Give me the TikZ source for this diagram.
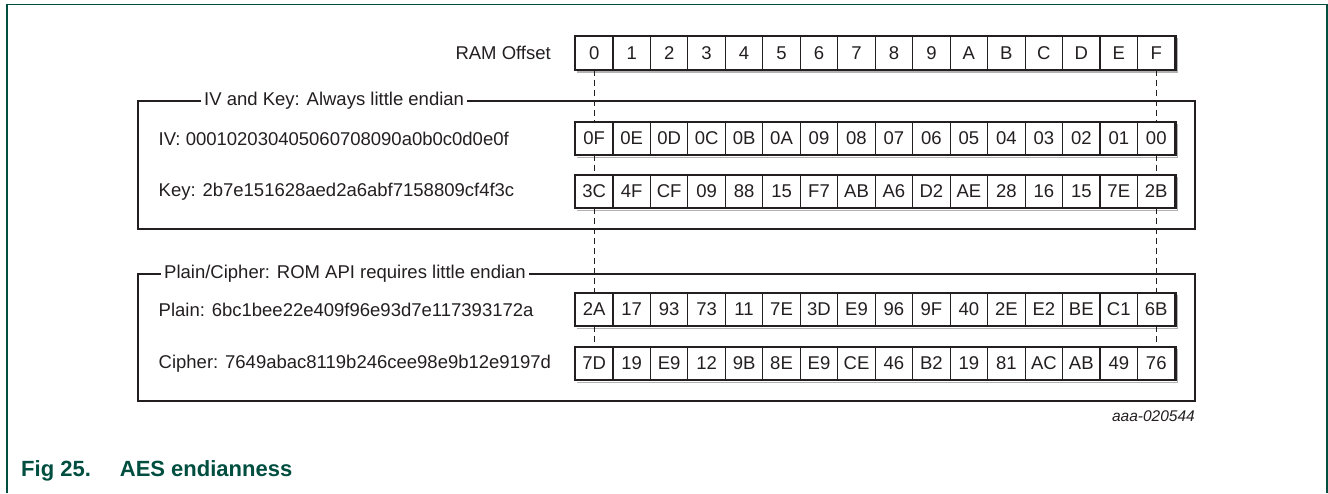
\documentclass[tikz,border=0pt]{standalone}
\usepackage{fontspec}
\setmainfont{Liberation Sans}
\usetikzlibrary{positioning}
\definecolor{nxpgreen}{RGB}{0,78,64}
\definecolor{ink}{RGB}{35,31,32}

\begin{document}
\begin{tikzpicture}[x=1pt, y=-1pt,
    cell/.style={draw=ink, line width=1.2pt, fill=white, minimum width=37.47pt, minimum height=32.5pt, inner sep=0pt, font=\fontsize{18.5}{21}\selectfont, text=ink},
    rowlabel/.style={anchor=west, inner sep=0pt, font=\fontsize{18.5}{21}\selectfont, text=ink},
    boxtitle/.style={anchor=west, fill=white, inner xsep=3pt, inner ysep=1pt, font=\fontsize{18.5}{21}\selectfont, text=ink},
    rowedge/.style={draw=ink, line width=2pt},
    rowshadow/.style={draw=black!30, line width=1.5pt},
    groupbox/.style={draw=ink, line width=2pt},
    guide/.style={draw=ink, line width=0.9pt, dash pattern=on 6pt off 4pt}]
    \useasboundingbox (0,0) rectangle (1328,493);

    % outer frame
    \draw[nxpgreen, line width=1.2pt] (7,493) -- (7,4.5) -- (1327,4.5) -- (1327,493);

    % group boxes
    \draw[groupbox] (138,101) rectangle (1195,229);
    \draw[groupbox] (138,274) rectangle (1195,401);
    \node[boxtitle] (ivkeytitle) at (201,101) {IV and Key: Always little endian};
    \node[boxtitle] (pctitle) at (161,274) {Plain/Cipher: ROM API requires little endian};

    % RAM offsets
    \node[rowlabel, anchor=east] (ramlabel) at (551,53) {RAM Offset};
    \foreach \v [count=\i from 0] in {0,1,2,3,4,5,6,7,8,9,A,B,C,D,E,F}
        \node[cell] (ram\i) at ({594.2+37.47*\i},53) {\v};

    % IV and key
    \node[rowlabel] (ivlabel) at (158.5,138.5) {IV: 000102030405060708090a0b0c0d0e0f};
    \foreach \v [count=\i from 0] in {0F,0E,0D,0C,0B,0A,09,08,07,06,05,04,03,02,01,00}
        \node[cell] (iv\i) at ({594.2+37.47*\i},138.5) {\v};
    \node[rowlabel] (keylabel) at (158.5,191.5) {Key: 2b7e151628aed2a6abf7158809cf4f3c};
    \foreach \v [count=\i from 0] in {3C,4F,CF,09,88,15,F7,AB,A6,D2,AE,28,16,15,7E,2B}
        \node[cell] (key\i) at ({594.2+37.47*\i},191.5) {\v};

    % plain and cipher
    \node[rowlabel] (plainlabel) at (158.5,309.5) {Plain: 6bc1bee22e409f96e93d7e117393172a};
    \foreach \v [count=\i from 0] in {2A,17,93,73,11,7E,3D,E9,96,9F,40,2E,E2,BE,C1,6B}
        \node[cell] (pl\i) at ({594.2+37.47*\i},309.5) {\v};
    \node[rowlabel] (cipherlabel) at (158.5,363.5) {Cipher: 7649abac8119b246cee98e9b12e9197d};
    \foreach \v [count=\i from 0] in {7D,19,E9,12,9B,8E,E9,CE,46,B2,19,81,AC,AB,49,76}
        \node[cell] (ci\i) at ({594.2+37.47*\i},363.5) {\v};

    % row outlines
    \foreach \r in {ram,iv,key,pl,ci} {
        \draw[rowshadow] ([shift={(2,2)}]\r0.south west) -- ([shift={(2,2)}]\r15.south east) -- ([shift={(2,2)}]\r15.north east);
        \draw[rowedge] (\r0.north west) rectangle (\r15.south east);
    }

    % guides for byte 0 and byte F
    \foreach \i in {0,15} {
        \draw[guide] (ram\i.south) -- (iv\i.north);
        \draw[guide] (iv\i.south) -- (key\i.north);
        \draw[guide] (key\i.south) -- (pl\i.north);
        \draw[guide] (pl\i.south) -- (ci\i.north);
    }

    \node[anchor=east, inner sep=0pt, font=\fontsize{15.5}{18}\selectfont\itshape, text=ink] (figid) at (1195,416) {aaa-020544};
    \node[anchor=west, inner sep=0pt, font=\fontsize{22}{26}\selectfont\bfseries, text=nxpgreen] (caption) at (21,471) {Fig 25.\hspace{29pt}AES endianness};
\end{tikzpicture}
\end{document}
